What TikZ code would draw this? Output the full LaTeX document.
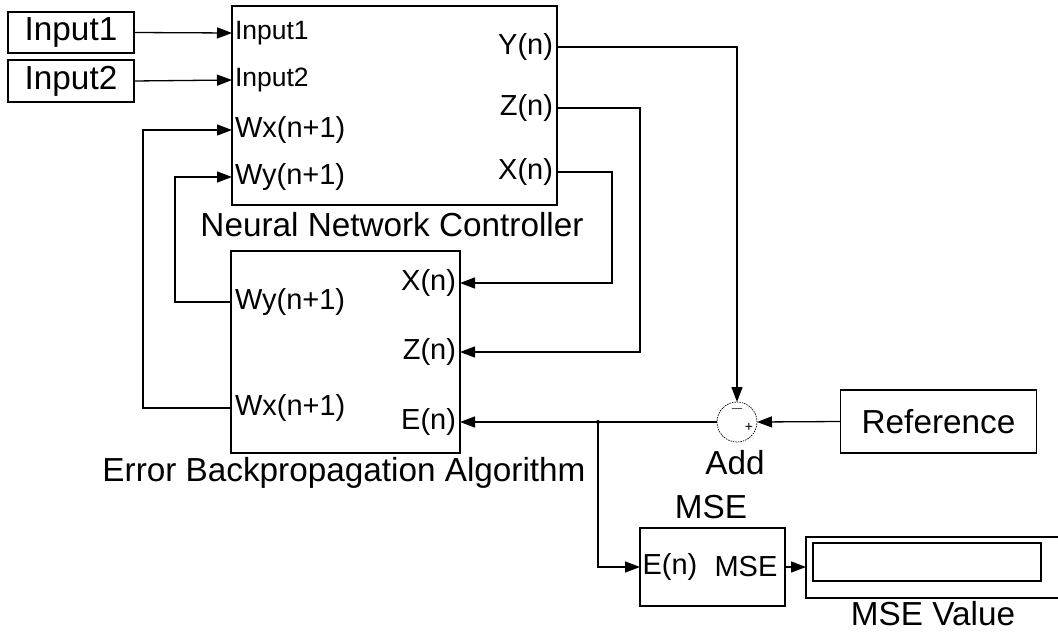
\documentclass[tikz,border=0pt]{standalone}
\usepackage{fontspec}
\setmainfont{Liberation Sans}
\usetikzlibrary{arrows.meta}
\begin{document}
\begin{tikzpicture}[x=1pt,y=-1pt,
  line width=1.3pt,
  every node/.style={inner sep=0pt,outer sep=0pt},
  blk/.style={draw,line width=1.3pt,rectangle},
  big/.style={font=\fontsize{33.3}{38}\selectfont},
  port/.style={font=\fontsize{29}{33}\selectfont},
  sport/.style={font=\fontsize{26.5}{30}\selectfont},
  sig/.style={-{Triangle[length=15pt,width=11pt]}},
]
\useasboundingbox (0,0) rectangle (1058,632);

% Input blocks
\node[blk,big,minimum width=126pt,minimum height=41pt] (in1) at (71,32.5) {Input1};
\node[blk,big,minimum width=126pt,minimum height=42pt] (in2) at (71,81) {Input2};

% Neural network controller
\node[blk,minimum width=325pt,minimum height=199pt] (nnc) at (394.5,105.5) {};
\node[big] (nnclab) at (392,225) {Neural Network Controller};
\coordinate (nin1) at (232,33);
\coordinate (nin2) at (232,80);
\coordinate (nwx) at (232,130);
\coordinate (nwy) at (232,177);
\coordinate (nyo) at (557,47);
\coordinate (nzo) at (557,108);
\coordinate (nxo) at (557,172);
\node[sport,anchor=west] (tin1) at (235,33) {Input1};
\node[sport,anchor=west] (tin2) at (235,80) {Input2};
\node[port,anchor=west] (twx) at (235,130) {Wx(n+1)};
\node[port,anchor=west] (twy) at (235,177) {Wy(n+1)};
\node[port,anchor=east] (tyo) at (553,47) {Y(n)};
\node[port,anchor=east] (tzo) at (553,108) {Z(n)};
\node[port,anchor=east] (txo) at (553,172) {X(n)};

% Error backpropagation block
\node[blk,minimum width=229pt,minimum height=202pt] (eba) at (345.5,352) {};
\node[big] (ebalab) at (344,473) {Error Backpropagation Algorithm};
\coordinate (exi) at (460,283);
\coordinate (ezi) at (460,352);
\coordinate (eei) at (460,422);
\coordinate (ewy) at (231,302);
\coordinate (ewx) at (231,408);
\node[port,anchor=east] (texi) at (456,283) {X(n)};
\node[port,anchor=east] (tezi) at (456,352) {Z(n)};
\node[port,anchor=east] (teei) at (456,422) {E(n)};
\node[port,anchor=west] (tewy) at (235,302) {Wy(n+1)};
\node[port,anchor=west] (tewx) at (235,408) {Wx(n+1)};

% Sum block
\node[circle,draw,line width=0.7pt,dash pattern=on 1.5pt off 1pt,minimum size=40pt] (sum) at (737,422) {};
\node[font=\fontsize{16}{16}\selectfont] (minus) at (737,409) {$-$};
\node[font=\fontsize{14}{14}\selectfont] (plus) at (749,427) {+};
\node[big] (addlab) at (735,463) {Add};

% Reference
\node[blk,big,minimum width=196pt,minimum height=63pt] (ref) at (938.5,421.5) {Reference};

% MSE block
\node[big] (mselab) at (711,507) {MSE};
\node[blk,minimum width=145pt,minimum height=78pt] (mse) at (712.5,567) {};
\node[port] (msein) at (670,567) {E(n)};
\node[port] (mseout) at (746,567) {MSE};

% Display
\draw (1060,537) -- (806,537) -- (806,598) -- (1060,598);
\coordinate (dwest) at (806,567);
\draw (813,543) rectangle (1041,581);
\node[big] (dlab) at (933,614) {MSE Value};

% Connections
\draw[sig] (in1.east) -- (nin1);
\draw[sig] (in2.east) -- (nin2);
\draw[sig] (nyo) -| (sum.north);
\draw[sig] (nzo) -- (640,108) -- (640,352) -- (ezi);
\draw[sig] (nxo) -- (612,172) -- (612,283) -- (exi);
\draw[sig] (ewy) -- (175,302) -- (175,177) -- (nwy);
\draw[sig] (ewx) -- (143,408) -- (143,130) -- (nwx);
\draw[sig] (ref.west) -- (sum.east);
\draw[sig] (sum.west) -- (eei);
\coordinate (jn) at (598,422);
\fill (jn) circle (2pt);
\draw[sig] (jn) |- (mse.west);
\draw[sig] (mse.east) -- (dwest);
\end{tikzpicture}
\end{document}
